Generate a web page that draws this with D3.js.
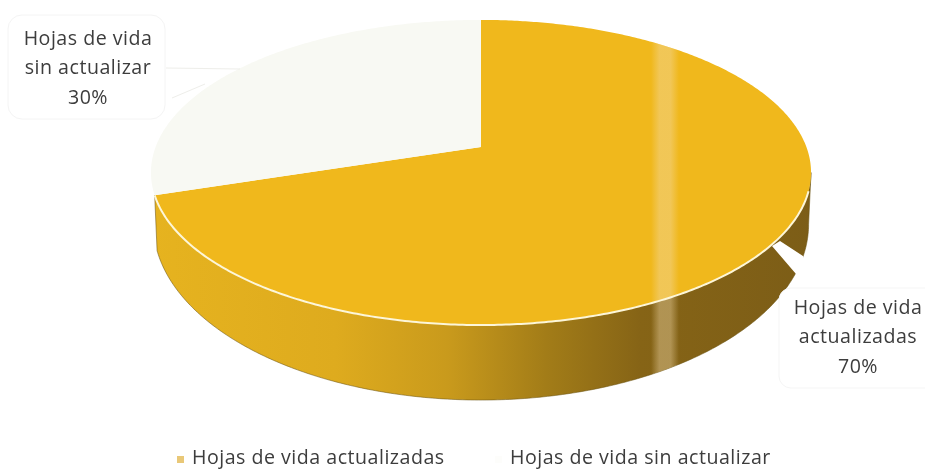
<!DOCTYPE html>
<html>
<head>
<meta charset="utf-8">
<script src="https://cdnjs.cloudflare.com/ajax/libs/d3/7.8.5/d3.min.js"></script>
<style>
  html, body { margin: 0; padding: 0; background: #fff; }
  text { font-family: "Open Sans", Lato, sans-serif; fill: #3c3c3c; letter-spacing: 0.5px; }
</style>
</head>
<body>
<div id="container"></div>
<script>
// data
let categories = ["Hojas de vida actualizadas", "Hojas de vida sin actualizar"];
let values = [70, 30];
let labelLines = [["Hojas de vida", "actualizadas", "70%"], ["Hojas de vida", "sin actualizar", "30%"]];
let colors = ["#f0b81c", "#f8f9f3"];
let legendColors = ["#e9c878", "#fdfdfb"];

let w = 925;
let h = 470;

let viz = d3.select("#container").append("svg")
    .attr("width", w)
    .attr("height", h)
    .style("display", "block");

// the pie is seen in perspective, so a point of the circle is projected by hand
let k = 0.167;
let topFace = {cx: 481, cy: 147, rx: 325.4, ry: 148.3};
let bottomFace = {cx: 481, cy: 195, rx: 323, ry: 170.8};

function project(face, angle) {
  let u = Math.sin(angle);
  let v = -Math.cos(angle);
  let s = 1 - k * v;
  return [face.cx + face.rx * u / s, face.cy + face.ry * v / s];
}

function arcPoints(face, a0, a1) {
  let n = Math.max(2, Math.ceil(Math.abs(a1 - a0) / 0.01));
  return d3.range(n + 1).map(i => project(face, a0 + (a1 - a0) * i / n));
}

let line = d3.line();
let slices = d3.pie().sort(null).value(d => d)(values);

let defs = viz.append("defs");

// the side wall goes dark to the right
let wallGrad = defs.append("linearGradient").attr("id", "wallGrad")
    .attr("gradientUnits", "userSpaceOnUse")
    .attr("x1", 150).attr("x2", 812).attr("y1", 0).attr("y2", 0);
[[0, "#e6b31f"], [0.28, "#deab1e"], [0.45, "#c99a1c"], [0.6, "#a27c18"], [0.74, "#866416"], [1, "#7c5d17"]]
  .forEach(s => wallGrad.append("stop").attr("offset", s[0]).attr("stop-color", s[1]));

// pale vertical streak from the scan
let streakGrad = defs.append("linearGradient").attr("id", "streakGrad");
[[0, 0], [0.3, 0.4], [0.7, 0.4], [1, 0]]
  .forEach(s => streakGrad.append("stop").attr("offset", s[0]).attr("stop-color", "#f3dcae").attr("stop-opacity", s[1]));

let blur = defs.append("filter").attr("id", "soft");
blur.append("feGaussianBlur").attr("stdDeviation", 0.35);

let pie = viz.append("g").attr("class", "pie");

// wall of the big slice, from the right silhouette to the slice's left edge
let wallStart = Math.acos(-k);
let wallEnd = slices[0].endAngle;
let wallPts = arcPoints(topFace, wallStart, wallEnd)
    .concat(arcPoints(bottomFace, wallEnd, wallStart));
let wallPath = line(wallPts) + "Z";

pie.append("path")
    .attr("d", wallPath)
    .attr("fill", "url(#wallGrad)")
    .attr("stroke", "#6e5514")
    .attr("stroke-opacity", 0.55)
    .attr("stroke-width", 1);

// top faces
pie.selectAll(".slice").data(slices).enter().append("path")
    .attr("class", "slice")
    .attr("d", d => line([[topFace.cx, topFace.cy]].concat(arcPoints(topFace, d.startAngle, d.endAngle))) + "Z")
    .attr("fill", (d, i) => colors[i]);

// streak over the big slice and its wall
let clip = defs.append("clipPath").attr("id", "goldClip");
clip.append("path").attr("d", wallPath);
clip.append("path").attr("d", line([[topFace.cx, topFace.cy]].concat(arcPoints(topFace, slices[0].startAngle, slices[0].endAngle))) + "Z");
pie.append("rect")
    .attr("x", 651).attr("y", 40).attr("width", 28).attr("height", 380)
    .attr("fill", "url(#streakGrad)")
    .attr("clip-path", "url(#goldClip)");

// pale rim on the front edge of the top
pie.append("path")
    .attr("d", line(arcPoints(topFace, Math.acos(-k) + 0.12, wallEnd)))
    .attr("fill", "none")
    .attr("stroke", "#fdf6d8")
    .attr("stroke-width", 2);

// callouts
let callouts = viz.append("g").attr("class", "callouts");

// big slice: white pointer cutting through the wall, then the box
callouts.append("path")
    .attr("d", "M772,246L780,241L803,256L815,300L796,274Z")
    .attr("fill", "#fff");
callouts.append("rect")
    .attr("x", 779).attr("y", 288).attr("width", 160).attr("height", 100).attr("rx", 12)
    .attr("fill", "#fff")
    .attr("stroke", "#f5f5f5");

// small slice: box sits beside the pie, only a faint outline shows
callouts.append("rect")
    .attr("x", 8).attr("y", 15).attr("width", 157).attr("height", 104).attr("rx", 14)
    .attr("fill", "#fff")
    .attr("stroke", "#f4f4f4");
callouts.append("path")
    .attr("d", "M166,68L240,69M172,98L205,84")
    .attr("fill", "none")
    .attr("stroke", "#eeeeea");

let labelPos = [[858, 314], [88, 45]];
let labels = viz.selectAll(".label").data(labelLines).enter().append("text")
    .attr("class", "label")
    .attr("text-anchor", "middle")
    .attr("font-size", 19.6)
    .attr("filter", "url(#soft)")
    .attr("transform", (d, i) => "translate(" + labelPos[i][0] + "," + labelPos[i][1] + ")");
labels.selectAll("tspan").data(d => d).enter().append("tspan")
    .attr("x", 0)
    .attr("y", (d, i) => i * 29.3)
    .text(d => d);

// legend, a little higher than the scan so the descenders stay on the page
let legendX = d3.scaleOrdinal().domain(categories).range([180, 498]);
let legend = viz.selectAll(".legend").data(categories).enter().append("g")
    .attr("class", "legend")
    .attr("transform", d => "translate(" + legendX(d) + ",459)");
legend.append("rect")
    .attr("x", -3).attr("y", -3).attr("width", 7).attr("height", 7)
    .attr("fill", (d, i) => legendColors[i]);
legend.append("text")
    .attr("x", 12).attr("y", 5)
    .attr("font-size", 19.6)
    .attr("filter", "url(#soft)")
    .text(d => d);
</script>
</body>
</html>
